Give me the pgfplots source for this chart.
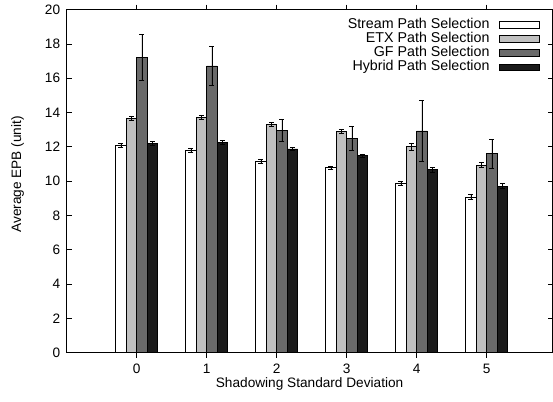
\documentclass[border=0pt]{standalone}
\usepackage{fontspec}
\setmainfont{Liberation Sans}
\usepackage{pgfplots}
\pgfplotsset{compat=1.18}
\begin{document}
\begin{tikzpicture}[font=\fontsize{13.7}{16}\selectfont]
\begin{axis}[
  scale only axis,
  width=485.8bp, height=343bp,
  xmin=-1, xmax=5.94,
  ymin=0, ymax=20,
  ytick={0,2,...,20},
  xtick={0,1,2,3,4,5},
  tick align=inside,
  major tick length=5bp,
  xtick pos=both, ytick pos=both,
  /pgf/number format/assume math mode=true,
  axis line style={line width=0.9bp},
  every tick/.style={line width=0.8bp, black},
  yticklabel style={xshift=-3bp},
  xticklabel style={yshift=-3bp},
  ybar=0pt, bar width=0.15,
  every axis y label/.style={at={(axis description cs:0,0.52)}, xshift=-49bp, rotate=90, anchor=center},
  every axis x label/.style={at={(axis description cs:0.5,0)}, anchor=center, yshift=-31bp},
  ylabel={Average EPB (unit)},
  xlabel={Shadowing Standard Deviation},
  legend image code/.code={\draw[#1] (0bp,-3.3bp) rectangle (40bp,3.3bp);},
  legend plot pos=right,
  legend cell align=right,
  legend style={at={(rel axis cs:1,1)}, anchor=north east, xshift=-13bp, yshift=-8.5bp,
    draw=none, fill=none, inner sep=0pt, row sep=1.4bp, column sep=9bp,
    font=\fontsize{14.3}{16}\selectfont,
    nodes={inner sep=0pt, text height=9.8bp, text depth=3bp}},
  error bars/error bar style={black, line width=0.8bp},
  error bars/error mark options={rotate=90, mark size=2.5bp, line width=0.8bp, black},
]
\addplot+[draw=black, fill=white, line width=0.8bp, error bars/.cd, y dir=both, y explicit]
  coordinates {(0,12.09) +- (0,0.1) (1,11.8) +- (0,0.1) (2,11.15) +- (0,0.1) (3,10.79) +- (0,0.1) (4,9.85) +- (0,0.12) (5,9.08) +- (0,0.15)};
\addplot+[draw=black, fill={rgb,255:red,192;green,192;blue,192}, line width=0.8bp, error bars/.cd, y dir=both, y explicit]
  coordinates {(0,13.66) +- (0,0.1) (1,13.72) +- (0,0.12) (2,13.33) +- (0,0.12) (3,12.9) +- (0,0.12) (4,12.0) +- (0,0.18) (5,10.94) +- (0,0.15)};
\addplot+[draw=black, fill={rgb,255:red,106;green,106;blue,106}, line width=0.8bp, error bars/.cd, y dir=both, y explicit]
  coordinates {(0,17.22) +- (0,1.36) (1,16.72) +- (0,1.12) (2,12.98) +- (0,0.65) (3,12.5) +- (0,0.72) (4,12.93) +- (0,1.8) (5,11.6) +- (0,0.84)};
\addplot+[draw=black, fill={rgb,255:red,26;green,26;blue,26}, line width=0.8bp, error bars/.cd, y dir=both, y explicit]
  coordinates {(0,12.2) +- (0,0.1) (1,12.25) +- (0,0.1) (2,11.88) +- (0,0.1) (3,11.49) +- (0,0.1) (4,10.67) +- (0,0.15) (5,9.72) +- (0,0.15)};
\legend{Stream Path Selection, ETX Path Selection, GF Path Selection, Hybrid Path Selection}
\end{axis}
\pgfresetboundingbox
\path (current axis.south west) ++(-66.7bp,-49bp) coordinate (bbA);
\path (current axis.north east) ++(0.5bp,9.7bp) coordinate (bbB);
\path[use as bounding box] (bbA) rectangle (bbB);
\end{tikzpicture}
\end{document}
